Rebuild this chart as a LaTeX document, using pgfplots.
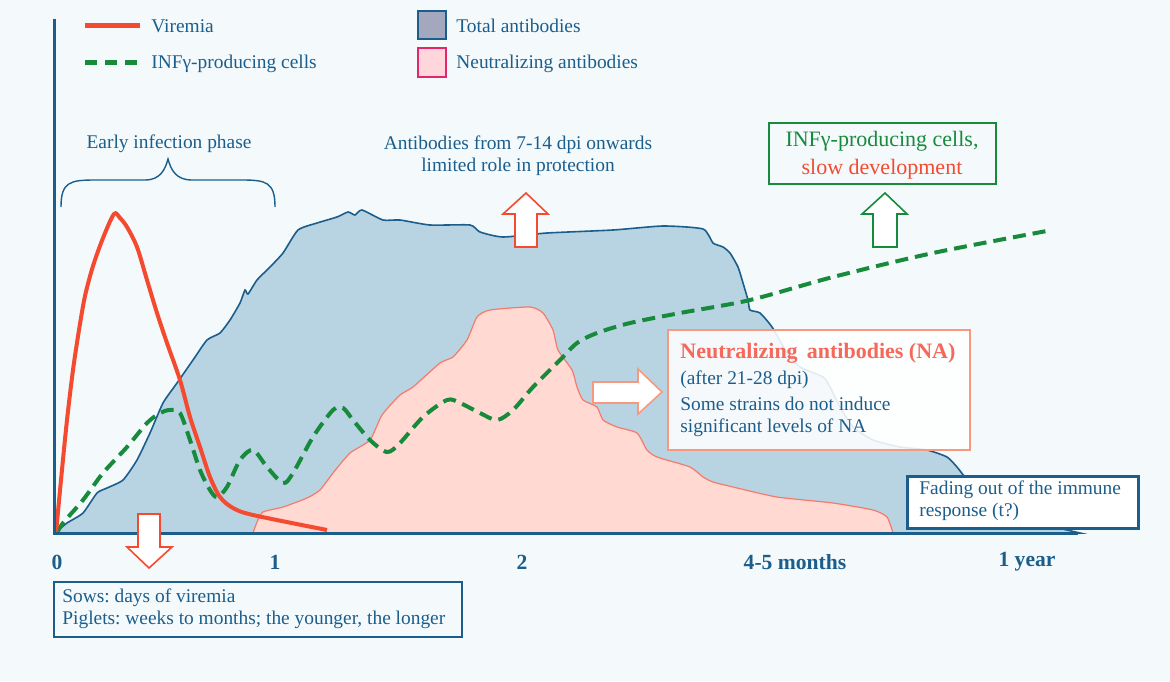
\documentclass[border=0pt]{standalone}
\usepackage{pgfplots}
\pgfplotsset{compat=1.18}
\usepackage{fontspec}
\setmainfont{Liberation Serif}
\frenchspacing

\definecolor{bgcol}{HTML}{F4F9FC}
\definecolor{axblue}{HTML}{1B5E8C}
\definecolor{abfill}{HTML}{B8D4E2}
\definecolor{nafill}{HTML}{FFD9D2}
\definecolor{naedge}{HTML}{F47A6C}
\definecolor{vired}{HTML}{F44A2F}
\definecolor{infgreen}{HTML}{178A3C}
\definecolor{legblue}{HTML}{A3A8BE}
\definecolor{legpink}{HTML}{FFD6DC}
\definecolor{legpinkedge}{HTML}{E6246A}
\definecolor{natitle}{HTML}{F5685A}
\definecolor{nabox}{HTML}{F7987F}

\newcommand\bodyfont{\fontsize{9.7pt}{11pt}\selectfont}
\newcommand\bigfont{\fontsize{11pt}{14pt}\selectfont}
\newcommand\tickfont{\fontsize{10.8pt}{12pt}\selectfont\bfseries}

\begin{document}
\begin{tikzpicture}
\begin{axis}[
    x=0.5pt, y=0.5pt, y dir=reverse,
    xmin=0, xmax=1170, ymin=0, ymax=681,
    hide axis, clip=false, scale only axis,
]
% background
\fill[bgcol] (axis cs:0,0) rectangle (axis cs:1170,681);

% total antibodies (pixel coordinates, y downwards)
\addplot[draw=axblue, line width=0.8pt, fill=abfill, smooth, tension=0.35] coordinates {
    (55,533) (67,523) (83,513) (97,493) (107,488) (123,480) (137,460) (150,433)
    (163,403) (177,383) (193,360) (207,340) (220,333) (230,320) (240,303) (245,290)
    (248,294) (257,280) (270,267) (283,253) (298,230) (317,223) (337,217) (348,212)
    (355,215) (362,210) (383,220) (400,220) (430,225) (470,225) (480,232) (503,237)
    (547,233) (613,230) (663,226) (703,229) (713,243) (723,247) (730,253) (738,267)
    (743,283) (748,300) (750,310) (760,313) (772,327) (787,353) (800,367) (823,377)
    (830,387) (840,407) (853,427) (873,440) (900,447) (927,450) (947,457) (957,467)
    (965,477) (988,500) (1010,514) (1033,522) (1080,533)
} -- cycle;

% neutralizing antibodies
\addplot[draw=naedge, line width=0.6pt, fill=nafill, smooth, tension=0.35] coordinates {
    (253,533) (257,522) (263,512) (283,507) (307,498) (320,490) (333,473) (350,453)
    (370,440) (382,415) (400,395) (413,387) (440,363) (453,357) (467,340) (477,317)
    (490,310) (530,307) (543,313) (553,330) (558,350) (572,370) (577,387) (583,400)
    (597,407) (603,420) (617,427) (637,433) (647,450) (657,457) (690,467) (703,477)
    (713,482) (733,487) (777,497) (833,503) (873,510) (887,517) (893,533)
} -- cycle;

% INF-gamma producing cells
\addplot[infgreen, line width=2pt, dash pattern=on 6.5pt off 3.5pt, smooth, tension=0.5] coordinates {
    (57,533) (63,523) (83,500) (103,473) (127,447) (147,423) (160,413) (170,410)
    (180,413) (190,440) (200,470) (210,490) (217,497) (227,487) (240,460) (253,450)
    (267,467) (283,483) (293,473) (313,437) (333,410) (343,408) (353,420) (370,440)
    (387,452) (400,443) (423,417) (447,400) (460,403) (480,413) (497,420) (513,410)
    (533,387) (560,360) (577,343) (597,333) (630,323) (680,313) (750,300) (833,277)
    (933,253) (1052,230)
};

% viremia
\addplot[vired, line width=2pt, smooth, tension=0.5] coordinates {
    (56,533) (61,480) (67,420) (73,370) (79,330) (85,296) (93,266) (103,238)
    (114,214) (120,218) (127,227) (137,247) (147,280) (157,313) (167,343)
    (180,380) (190,417) (200,447) (210,477) (220,497) (233,508) (253,515) (327,530)
};

% axis lines
\addplot[axblue, line width=1.5pt] coordinates {(54,19) (54,533.5) (1078,533.5)};

% tick labels
\node[text=axblue, font=\tickfont] at (axis cs:57,562) {0};
\node[text=axblue, font=\tickfont] at (axis cs:275,562) {1};
\node[text=axblue, font=\tickfont] at (axis cs:522,562) {2};
\node[text=axblue, font=\tickfont] at (axis cs:795,562) {4-5 months};
\node[text=axblue, font=\tickfont] at (axis cs:1027,562) {1 year};

% legend
\addplot[vired, line width=2.5pt] coordinates {(85,25) (140,25)};
\node[anchor=west, text=axblue, font=\bodyfont, inner sep=0pt] at (axis cs:151,26) {Viremia};
\addplot[infgreen, line width=2.5pt, dash pattern=on 6pt off 4pt] coordinates {(85,62) (140,62)};
\node[anchor=west, text=axblue, font=\bodyfont, inner sep=0pt] at (axis cs:151,64) {INFγ-producing cells};
\draw[axblue, line width=1.2pt, fill=legblue] (axis cs:418,11) rectangle (axis cs:446,39);
\node[anchor=west, text=axblue, font=\bodyfont, inner sep=0pt] at (axis cs:456,26) {Total antibodies};
\draw[legpinkedge, line width=1.2pt, fill=legpink] (axis cs:418,48) rectangle (axis cs:446,77);
\node[anchor=west, text=axblue, font=\bodyfont, inner sep=0pt] at (axis cs:456,64) {Neutralizing antibodies};

% early infection phase brace
\node[text=axblue, font=\bodyfont] at (axis cs:169,144) {Early infection phase};
\draw[axblue, line width=0.7pt] (axis cs:61,207) .. controls (axis cs:61,182) and (axis cs:70,180) .. (axis cs:95,180)
    -- (axis cs:145,180) .. controls (axis cs:160,180) and (axis cs:165,170) .. (axis cs:168,159)
    .. controls (axis cs:171,170) and (axis cs:176,180) .. (axis cs:192,180)
    -- (axis cs:242,180) .. controls (axis cs:266,180) and (axis cs:275,182) .. (axis cs:275,207);

% antibodies note
\node[text=axblue, font=\bodyfont, align=center] at (axis cs:518,156) {Antibodies from 7-14 dpi onwards\\limited role in protection};
\draw[vired, line width=0.8pt, fill=white] (axis cs:515,247) -- (axis cs:515,214) -- (axis cs:503,214) -- (axis cs:526,193)
    -- (axis cs:548,214) -- (axis cs:537,214) -- (axis cs:537,247) -- cycle;

% INF box
\draw[infgreen, line width=1.2pt, fill=bgcol] (axis cs:769,123) rectangle (axis cs:996,184);
\node[text=infgreen, font=\bigfont] at (axis cs:882,141) {INFγ-producing cells,};
\node[text=vired, font=\bigfont] at (axis cs:882,169) {slow development};
\draw[infgreen, line width=0.8pt, fill=white] (axis cs:873,247) -- (axis cs:873,214) -- (axis cs:862,214) -- (axis cs:885,193)
    -- (axis cs:907,214) -- (axis cs:897,214) -- (axis cs:897,247) -- cycle;

% NA box
\draw[nabox, line width=0.8pt, fill=white] (axis cs:593,382) -- (axis cs:638,382) -- (axis cs:638,369) -- (axis cs:662,392)
    -- (axis cs:638,414) -- (axis cs:638,403) -- (axis cs:593,403) -- cycle;
\draw[nabox, line width=1.2pt, fill=white, fill opacity=0.88] (axis cs:668,330) rectangle (axis cs:970,450);
\node[anchor=west, text=natitle, font=\bigfont\bfseries, inner sep=0pt] at (axis cs:680,353) {Neutralizing\, antibodies (NA)};
\node[anchor=west, text=axblue, font=\bodyfont, inner sep=0pt] at (axis cs:680,380) {(after 21-28 dpi)};
\node[anchor=west, text=axblue, font=\bodyfont, inner sep=0pt] at (axis cs:680,404) {Some strains do not induce};
\node[anchor=west, text=axblue, font=\bodyfont, inner sep=0pt] at (axis cs:680,428) {significant levels of NA};

% fading box
\draw[axblue, line width=1.5pt, fill=white] (axis cs:907,476) rectangle (axis cs:1138,528);
\node[anchor=west, text=axblue, font=\bodyfont, inner sep=0pt] at (axis cs:919,490) {Fading out of the immune};
\node[anchor=west, text=axblue, font=\bodyfont, inner sep=0pt] at (axis cs:919,512) {response (t?)};

% sows box and arrow
\draw[vired, line width=0.8pt, fill=white] (axis cs:138,514) -- (axis cs:160,514) -- (axis cs:160,547) -- (axis cs:172,547)
    -- (axis cs:149,568) -- (axis cs:127,547) -- (axis cs:138,547) -- cycle;
\draw[axblue, line width=0.8pt] (axis cs:54,582) rectangle (axis cs:462,637);
\node[anchor=west, text=axblue, font=\bodyfont, inner sep=0pt] at (axis cs:62,598) {Sows: days of viremia};
\node[anchor=west, text=axblue, font=\bodyfont, inner sep=0pt] at (axis cs:62,620) {Piglets: weeks to months; the younger, the longer};
\end{axis}
\end{tikzpicture}
\end{document}
